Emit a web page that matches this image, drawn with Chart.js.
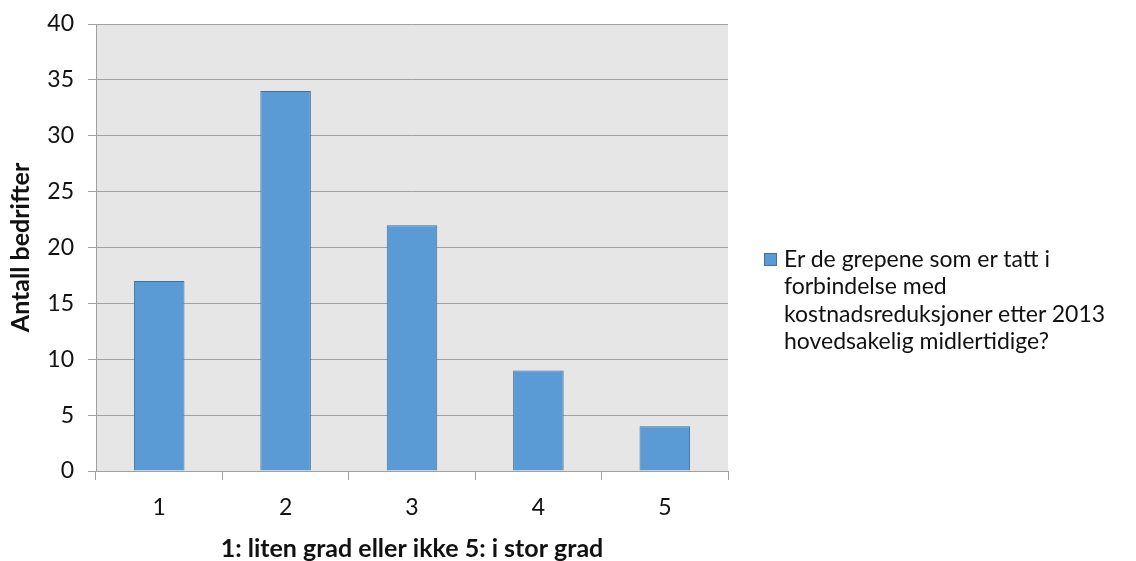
<!DOCTYPE html>
<html>
<head>
<meta charset="utf-8">
<script src="https://cdn.jsdelivr.net/npm/chart.js@4.4.1/dist/chart.umd.min.js"></script>
<style>
  html, body { margin: 0; padding: 0; background: #ffffff; }
  #wrap { position: relative; width: 1136px; height: 561px; }
  #legend {
    position: absolute; left: 764px; top: 245px;
    font-family: Lato, "Open Sans", sans-serif; font-size: 23px; line-height: 27.3px; color: #111;
  }
  #legend .box {
    position: absolute; left: 0; top: 8px; width: 11px; height: 11px;
    background: #5b9bd5; border: 1px solid #41719c;
  }
  #legend .txt { margin-left: 20px; white-space: nowrap; }
</style>
</head>
<body>
<div id="wrap">
  <canvas id="c" width="1136" height="561"></canvas>
  <div id="legend"><div class="box"></div><div class="txt" id="legendText"></div></div>
</div>
<script>
const categories = ['1', '2', '3', '4', '5'];
const values = [17, 34, 22, 9, 4];
const seriesName = ['Er de grepene som er tatt i', 'forbindelse med', 'kostnadsreduksjoner etter 2013', 'hovedsakelig midlertidige?'];
const yTicks = [0, 5, 10, 15, 20, 25, 30, 35, 40];
const xTitle = '1: liten grad eller ikke 5: i stor grad';
const yTitle = 'Antall bedrifter';

document.getElementById('legendText').innerHTML = seriesName.join('<br>');

const FONT = 'Lato, "Open Sans", sans-serif';
const GRID = '#a0a0a0';
const TEXT = '#111';

// grey plot-area background
const plotBg = {
  id: 'plotBg',
  beforeDraw(chart) {
    const { ctx, chartArea: a } = chart;
    ctx.save();
    ctx.fillStyle = '#e6e6e6';
    ctx.fillRect(a.left, a.top, a.right - a.left, a.bottom - a.top);
    ctx.restore();
  }
};

new Chart(document.getElementById('c'), {
  type: 'bar',
  data: {
    labels: categories,
    datasets: [{
      label: seriesName.join(' '),
      data: values,
      backgroundColor: '#5b9bd5',
      borderColor: '#41719c',
      borderWidth: 1,
      categoryPercentage: 1,
      barPercentage: 0.4
    }]
  },
  options: {
    responsive: false,
    animation: false,
    layout: { padding: { top: 24, right: 408, left: 0, bottom: 0 } },
    plugins: { legend: { display: false }, tooltip: { enabled: false } },
    scales: {
      x: {
        offset: true,
        grid: { display: true, drawOnChartArea: false, drawTicks: true, tickLength: 9, color: GRID, offset: true },
        border: { display: true, color: GRID, width: 1 },
        ticks: { color: TEXT, font: { family: FONT, size: 23 }, padding: 14 },
        title: { display: true, text: xTitle, color: TEXT, font: { family: FONT, size: 25, weight: 'bold', lineHeight: 1 }, padding: { top: 0, bottom: 0 } },
        afterFit(s) { s.height = 90; s.paddingLeft = 0; s.paddingRight = 0; }
      },
      y: {
        min: 0, max: 40,
        afterBuildTicks(s) { s.ticks = yTicks.map(v => ({ value: v })); },
        grid: { color: GRID, lineWidth: 1, tickLength: 8, drawTicks: true },
        border: { display: true, color: GRID, width: 1 },
        ticks: { color: TEXT, font: { family: FONT, size: 23 }, padding: 14 },
        title: { display: true, text: yTitle, color: TEXT, font: { family: FONT, size: 25, weight: 'bold', lineHeight: 1 }, padding: { top: 8, bottom: 0 } },
        afterFit(s) { s.width = 96; s.paddingTop = 0; s.paddingBottom = 0; }
      }
    }
  },
  plugins: [plotBg]
});
</script>
</body>
</html>
